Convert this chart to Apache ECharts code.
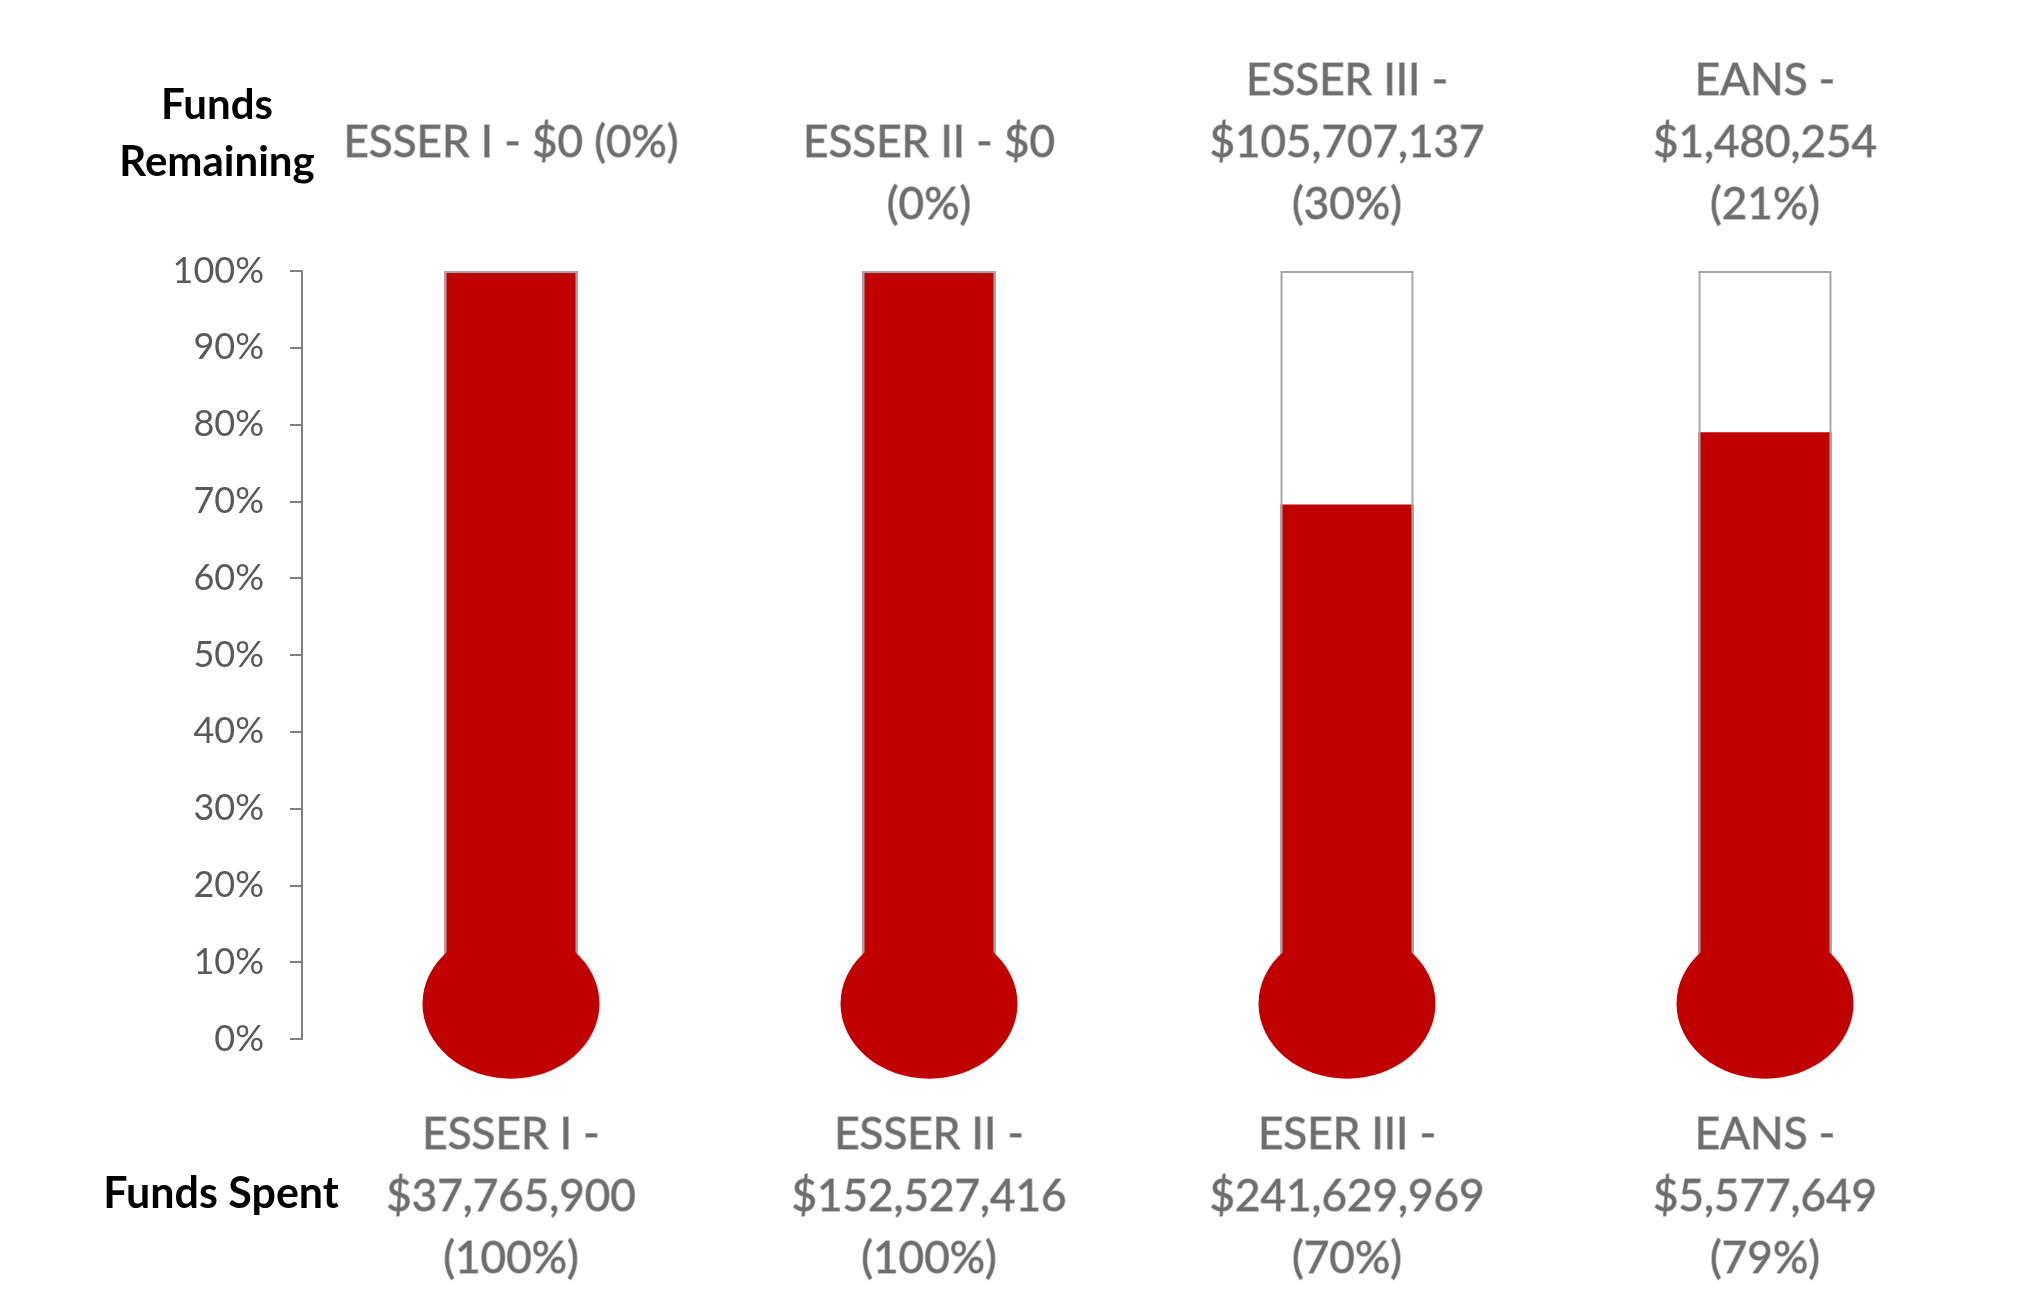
<!DOCTYPE html>
<html>
<head>
<meta charset="utf-8">
<script src="https://cdn.jsdelivr.net/npm/echarts@6/dist/echarts.min.js"></script>
<style>
  html, body { margin: 0; padding: 0; background: #fff; }
  #chart { width: 2037px; height: 1313px; }
</style>
</head>
<body>
<div id="chart"></div>
<script>
// funds, top labels (remaining) and bottom labels (spent)
var funds = ['ESSER I', 'ESSER II', 'ESSER III', 'EANS'];
var remainingLabels = [
    'ESSER I - $0 (0%)\n',
    'ESSER II - $0\n(0%)',
    'ESSER III -\n$105,707,137\n(30%)',
    'EANS -\n$1,480,254\n(21%)'
];
var spentLabels = [
    'ESSER I -\n$37,765,900\n(100%)',
    'ESSER II -\n$152,527,416\n(100%)',
    'ESER III -\n$241,629,969\n(70%)',
    'EANS -\n$5,577,649\n(79%)'
];
var tubeValues = [100, 100, 100, 100];
var spentValues = [100, 100, 69.6, 79.0];
var bulbLevel = [4.6, 4.6, 4.6, 4.6];

var RED = '#c00000';

// grey outlined text like the excel labels
var fundText = {
    fontFamily: 'Lato',
    fontSize: 44,
    lineHeight: 62,
    color: '#6e6e6e',
    textBorderColor: '#b4b4b4',
    textBorderWidth: 1.5
};

var chart = echarts.init(document.getElementById('chart'));

var option = {
    backgroundColor: '#fff',
    animation: false,
    title: [{
        text: 'Funds\nRemaining',
        left: 212,
        top: 72,
        textAlign: 'center',
        textStyle: {
            fontFamily: 'Lato',
            fontWeight: 'bold',
            fontSize: 42,
            lineHeight: 57,
            color: '#000'
        }
    }, {
        text: 'Funds Spent',
        left: 216,
        top: 1161,
        textAlign: 'center',
        textStyle: {
            fontFamily: 'Lato',
            fontWeight: 'bold',
            fontSize: 43,
            lineHeight: 57,
            color: '#000'
        }
    }],
    grid: {
        left: 302,
        right: 63,
        top: 271,
        bottom: 274,
        containLabel: false
    },
    xAxis: [{
        type: 'category',
        data: funds,
        position: 'bottom',
        axisLine: { show: false },
        axisTick: { show: false },
        axisLabel: Object.assign({
            interval: 0,
            margin: 65,
            verticalAlign: 'top',
            formatter: function (v, i) { return spentLabels[i]; }
        }, fundText)
    }, {
        type: 'category',
        data: funds,
        position: 'top',
        axisLine: { show: false },
        axisTick: { show: false },
        axisLabel: Object.assign({
            interval: 0,
            margin: 35,
            verticalAlign: 'bottom',
            formatter: function (v, i) { return remainingLabels[i]; }
        }, fundText)
    }],
    yAxis: {
        type: 'value',
        min: 0,
        max: 100,
        interval: 10,
        axisLine: { show: true, lineStyle: { color: '#808080', width: 2 } },
        axisTick: { show: true, length: 12, lineStyle: { color: '#808080', width: 2 } },
        splitLine: { show: false },
        axisLabel: {
            formatter: '{value}%',
            margin: 38,
            fontFamily: 'Lato',
            fontSize: 36,
            color: '#595959'
        }
    },
    series: [{
        name: 'Spent',
        type: 'bar',
        data: spentValues,
        barWidth: '31.8%',
        barGap: '-100%',
        z: 2,
        itemStyle: { color: RED }
    }, {
        name: 'Tube',
        type: 'bar',
        data: tubeValues,
        barWidth: '31.8%',
        z: 3,
        itemStyle: {
            color: 'rgba(0,0,0,0)',
            borderColor: '#a6a6a6',
            borderWidth: 2
        }
    }, {
        name: 'Bulb',
        type: 'scatter',
        data: bulbLevel,
        symbol: 'circle',
        symbolSize: [177, 150],
        z: 4,
        itemStyle: { color: RED, opacity: 1 }
    }]
};

chart.setOption(option);
</script>
</body>
</html>
